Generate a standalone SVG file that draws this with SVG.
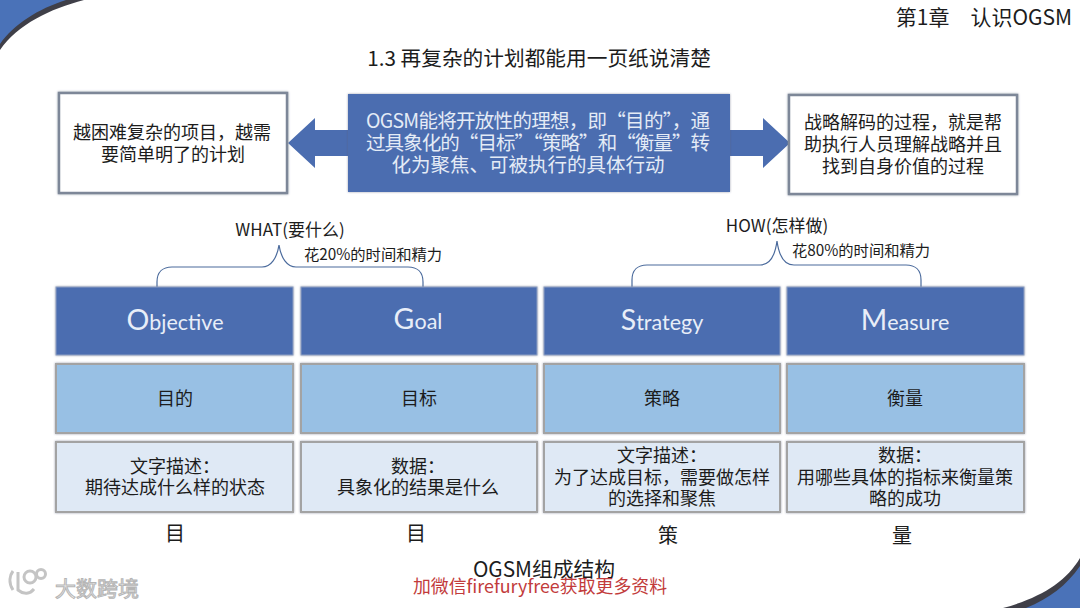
<svg xmlns="http://www.w3.org/2000/svg" width="1080" height="608" viewBox="0 0 1080 608">
<style>
text{font-family:"Noto Sans CJK SC","Noto Sans",sans-serif;fill:#1c1c1c;text-anchor:middle}
.c{font-size:18px}
.w{font-size:19.5px;fill:#e4ebf6}
.wb{fill:#fff;stroke:#7d8798;stroke-width:2.5;filter:url(#sh)}
.d{fill:#4b6db0;stroke:#8fa0c2;stroke-width:1;filter:url(#sh)}
.m{fill:#98c0e4;stroke:#a3a3a3;stroke-width:2;filter:url(#sh)}
.l{fill:#dfe9f5;stroke:#a3a3a3;stroke-width:2;filter:url(#sh)}
.h{font-family:Lato,sans-serif;font-size:21.5px;fill:#e8eef8}
.h tspan{font-size:28.5px}
.b{fill:none;stroke:#4a6a9c;stroke-width:1.2}
.bot{font-size:20px}
.n{font-size:15.3px}
.t{font-size:17px}
</style>
<defs>
<filter id="sh" x="-5%" y="-5%" width="110%" height="110%"><feGaussianBlur in="SourceAlpha" stdDeviation="1.5"/><feFlood flood-color="#56617a" flood-opacity=".6"/><feComposite operator="in" in2="SourceGraphic"/><feGaussianBlur stdDeviation="1"/><feMerge><feMergeNode/><feMergeNode in="SourceGraphic"/></feMerge></filter>
</defs>
<rect width="1080" height="608" fill="#fff"/>
<g id="corners">
<path d="M0 0H84C50 9 18 24 0 50Z" fill="#3f3f48"/>
<path d="M0 0H66C38 9 14 24 0 44Z" fill="#4a72b8"/>
<path d="M1080 558C1066 582 1040 598 1003 608H1080Z" fill="#3f3f48"/>
<path d="M1080 566C1066 586 1050 598 1026 608H1080Z" fill="#4a72b8"/>
</g>
<text x="984" y="25" font-size="21">第1章　认识OGSM</text>
<text x="539" y="66" font-size="20.7">1.3  再复杂的计划都能用一页纸说清楚</text>
<g id="connectors">
<path d="M348 130H315V118L288 143L315 168V156H348Z M730 130H763V118L790 143L763 168V156H730Z" fill="#4b6db0"/>
<path class="b" d="M157 287V282C157 272 163 267 172 267H262C271 267 277 258 279 245C281 258 287 267 296 267H408C417 267 423 272 423 282V287"/>
<path class="b" d="M632 287V280C632 270 638 265 647 265H760C769 265 775 256 777 241C779 256 785 265 794 265H906C915 265 921 270 921 280V287"/>
</g>
<g id="node-left"><rect class="wb" x="59" y="93" width="228" height="100"/>
<text class="c" x="172" y="139">越困难复杂的项目，越需</text><text class="c" x="173" y="161">要简单明了的计划</text></g>
<g id="node-center"><rect x="348" y="94" width="382" height="98" fill="#4b6db0" filter="url(#sh)"/>
<text class="w" x="538" y="128" textLength="344" lengthAdjust="spacing">OGSM能将开放性的理想，即“目的”，通</text>
<text class="w" x="538" y="150" textLength="344" lengthAdjust="spacing">过具象化的“目标”“策略”和“衡量”转</text>
<text class="w" x="528" y="172">化为聚焦、可被执行的具体行动</text></g>
<g id="node-right"><rect class="wb" x="789" y="95" width="228" height="99"/>
<text class="c" x="903" y="129">战略解码的过程，就是帮</text><text class="c" x="903" y="151">助执行人员理解战略并且</text><text class="c" x="903" y="173">找到自身价值的过程</text></g>
<g id="label-what"><text class="t" x="290" y="236">WHAT(要什么)</text><text class="n" x="373" y="260">花20%的时间和精力</text></g>
<g id="label-how"><text class="t" x="777" y="232">HOW(怎样做)</text><text class="n" x="861" y="256">花80%的时间和精力</text></g>
<g id="objective">
<rect class="d" x="56" y="287" width="237" height="68"/><text class="h" x="175" y="330"><tspan>O</tspan>bjective</text>
<rect class="m" x="56" y="364" width="237" height="69"/><text class="c" x="175" y="405">目的</text>
<rect class="l" x="56" y="442" width="237" height="70"/><text class="c" x="175" y="473">文字描述：</text><text class="c" x="175" y="494">期待达成什么样的状态</text>
<text class="bot" x="175" y="541">目</text></g>
<g id="goal">
<rect class="d" x="301" y="287" width="236" height="68"/><text class="h" x="418" y="329"><tspan>G</tspan>oal</text>
<rect class="m" x="301" y="364" width="236" height="69"/><text class="c" x="419" y="405">目标</text>
<rect class="l" x="301" y="442" width="236" height="70"/><text class="c" x="418" y="473">数据：</text><text class="c" x="418" y="494">具象化的结果是什么</text>
<text class="bot" x="416" y="541">目</text></g>
<g id="strategy">
<rect class="d" x="544" y="287" width="236" height="68"/><text class="h" x="662" y="330"><tspan>S</tspan>trategy</text>
<rect class="m" x="544" y="364" width="236" height="69"/><text class="c" x="662" y="405">策略</text>
<rect class="l" x="544" y="442" width="236" height="70"/><text class="c" x="662" y="462">文字描述：</text><text class="c" x="662" y="484">为了达成目标，需要做怎样</text><text class="c" x="662" y="505">的选择和聚焦</text>
<text class="bot" x="668" y="543">策</text></g>
<g id="measure">
<rect class="d" x="787" y="287" width="237" height="68"/><text class="h" x="905" y="330"><tspan>M</tspan>easure</text>
<rect class="m" x="787" y="364" width="237" height="69"/><text class="c" x="905" y="405">衡量</text>
<rect class="l" x="787" y="442" width="237" height="70"/><text class="c" x="905" y="462">数据：</text><text class="c" x="905" y="484">用哪些具体的指标来衡量策</text><text class="c" x="905" y="505">略的成功</text>
<text class="bot" x="902" y="543">量</text></g>
<text x="544" y="577" font-size="20.8">OGSM组成结构</text>
<text x="540" y="593" font-size="17.9" style="fill:#c23b3b">加微信firefuryfree获取更多资料</text>
<g id="watermark" fill="none" stroke="#c4c4c4" stroke-width="3">
<path d="M13 590C8 582 10 575 13 571M18 572V590C24 595 30 594 34 589"/>
<circle cx="30" cy="577" r="6"/><circle cx="41" cy="574" r="4.5"/>
<text x="97" y="596" font-size="21" stroke="#b5b5b5" stroke-width="1" style="fill:#eee">大数跨境</text>
</g>
</svg>
